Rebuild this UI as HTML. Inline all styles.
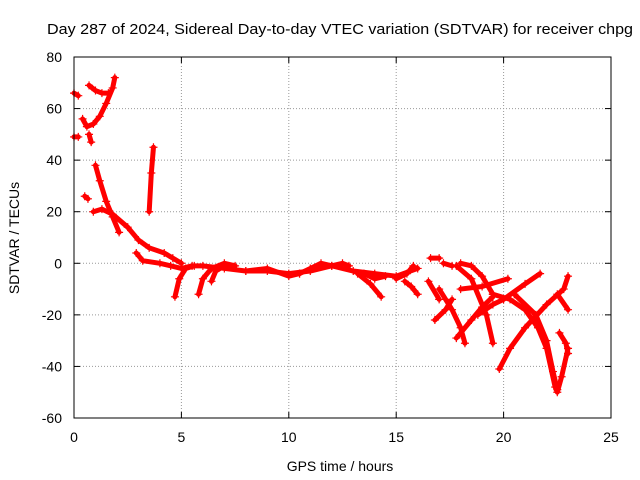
<!DOCTYPE html>
<html><head><meta charset="utf-8"><style>
body{margin:0;background:#fff;}
svg{display:block;font-family:"Liberation Sans",sans-serif;}
</style></head><body>
<svg id="chart" width="640" height="480" viewBox="0 0 640 480">
<rect width="640" height="480" fill="#fff"/>
<text x="47" y="34" font-size="15" textLength="586" lengthAdjust="spacingAndGlyphs">Day 287 of 2024, Sidereal Day-to-day VTEC variation (SDTVAR) for receiver chpg</text>
<g id="grid"></g>
<g id="axes"></g>
<g id="series"></g>
<rect x="74" y="57" width="537" height="361" fill="none" stroke="#000" stroke-width="1"/>
<text x="340" y="471" text-anchor="middle" font-size="14">GPS time / hours</text>
<text transform="translate(19,238) rotate(-90)" text-anchor="middle" font-size="14">SDTVAR / TECUs</text>
</svg>
<script>
const xTicks=[0,5,10,15,20,25];
const yTicks=[-60,-40,-20,0,20,40,60,80];
const tracks=[
[[0,66],[0.2,65]],
[[0,49],[0.2,49]],
[[0.4,56],[0.6,53],[0.9,54],[1.2,57],[1.5,62],[1.8,68],[1.9,72]],
[[0.7,69],[1.0,67],[1.3,66],[1.6,66]],
[[0.7,50],[0.8,47]],
[[0.5,26],[0.65,25]],
[[3.5,20],[3.6,35],[3.7,45]],
[[1.0,38],[1.2,32],[1.5,24],[1.8,18],[2.1,12]],
[[0.9,20],[1.3,21],[1.8,19],[2.5,14],[3,9],[3.5,6],[4.2,4],[4.6,2],[5,0]],
[[2.9,4],[3.2,1],[4,0],[4.5,-1],[5,-2],[5.5,-1],[6,-1],[7,-2],[8,-3],[9,-3],[10,-4],[11,-3],[12,-1],[13,-3],[14,-4],[15,-5],[16,-2]],
[[4.7,-13],[4.9,-6],[5.2,-2],[5.6,-1]],
[[5.8,-12],[6,-6],[6.4,-2],[7,0],[7.5,-1]],
[[6.4,-7],[6.6,-3],[7,-1]],
[[8,-3],[9,-2],[10,-5],[10.5,-4]],
[[10.5,-4],[11,-2],[11.5,0],[12,-1],[12.5,0],[12.8,-1]],
[[13.2,-4],[13.8,-8],[14.3,-13]],
[[13.5,-4],[14,-6],[14.5,-5]],
[[15,-6],[15.5,-4],[15.8,-1]],
[[15.4,-7],[15.7,-9],[16,-12]],
[[16.5,-7],[17,-14]],
[[16.6,2],[17,2]],
[[17.2,0],[17.6,-1]],
[[16.8,-22],[17.3,-18],[17.6,-14]],
[[17,-10],[17.6,-18],[18,-25],[18.2,-31]],
[[17.8,-1],[18.5,-6],[19.2,-20],[19.5,-31]],
[[18,0],[18.5,-1],[19,-5],[19.5,-12]],
[[17.8,-29],[18.5,-22],[19,-17],[19.5,-13]],
[[18,-10],[19,-9],[20.2,-6]],
[[19.8,-41],[20.3,-33],[21,-25],[22,-16],[22.8,-10],[23,-5]],
[[18.8,-20],[19.5,-16],[20,-14],[21,-8],[21.7,-4]],
[[19.5,-12],[20.3,-14],[21,-18],[21.6,-25],[22,-33],[22.4,-48],[22.5,-50],[22.7,-44],[23,-33]],
[[20.5,-12],[21.5,-20],[22,-30],[22.3,-42],[22.5,-49]],
[[22.5,-12],[23,-18]],
[[22.6,-27],[22.9,-31],[23,-35]]
];
const X0=74,X1=611,Y0=418,Y1=57;
const xs=v=>X0+(v-0)/25*(X1-X0);
const ys=v=>Y0-(v+60)/140*(Y0-Y1);
const NS="http://www.w3.org/2000/svg";
const g=document.getElementById('grid'),a=document.getElementById('axes'),s=document.getElementById('series');
function mk(t,attrs,p){const e=document.createElementNS(NS,t);for(const k in attrs)e.setAttribute(k,attrs[k]);p.appendChild(e);return e;}
xTicks.forEach(v=>{
 const x=xs(v);
 if(v>0&&v<25){const l=mk('line',{x1:x,x2:x,y1:Y1,y2:Y0,stroke:'#999','stroke-dasharray':'1,2'},g);
 
 }
 mk('line',{x1:x,x2:x,y1:Y0,y2:Y0-6,stroke:'#000'},a);
 mk('line',{x1:x,x2:x,y1:Y1,y2:Y1+6,stroke:'#000'},a);
 const t=mk('text',{x:x,y:Y0+24,'text-anchor':'middle','font-size':14},a);
 t.textContent=v;
 
 
});
yTicks.forEach(v=>{
 const y=ys(v);
 if(v>-60&&v<80){const l=mk('line',{x1:X0,x2:X1,y1:y,y2:y,stroke:'#999','stroke-dasharray':'1,2'},g);
 
 }
 mk('line',{x1:X0,x2:X0+6,y1:y,y2:y,stroke:'#000'},a);
 mk('line',{x1:X1,x2:X1-6,y1:y,y2:y,stroke:'#000'},a);
 const t=mk('text',{x:X0-12,y:y+5,'text-anchor':'end','font-size':14},a);
 t.textContent=v;
 
 
});
tracks.forEach((tr,i)=>{
 const p=mk('polyline',{points:tr.map(d=>xs(d[0])+','+ys(d[1])).join(' '),fill:'none',stroke:'#f00','stroke-width':5,'stroke-linejoin':'round','stroke-linecap':'round'},s);
 
 
 tr.forEach(d=>{
  const x=xs(d[0]),y=ys(d[1]);
  const m=mk('path',{d:`M${x-4},${y}H${x+4}M${x},${y-4}V${y+4}`,stroke:'#f00','stroke-width':1.2},s);
  
  
 });
});
</script>
</body></html>
